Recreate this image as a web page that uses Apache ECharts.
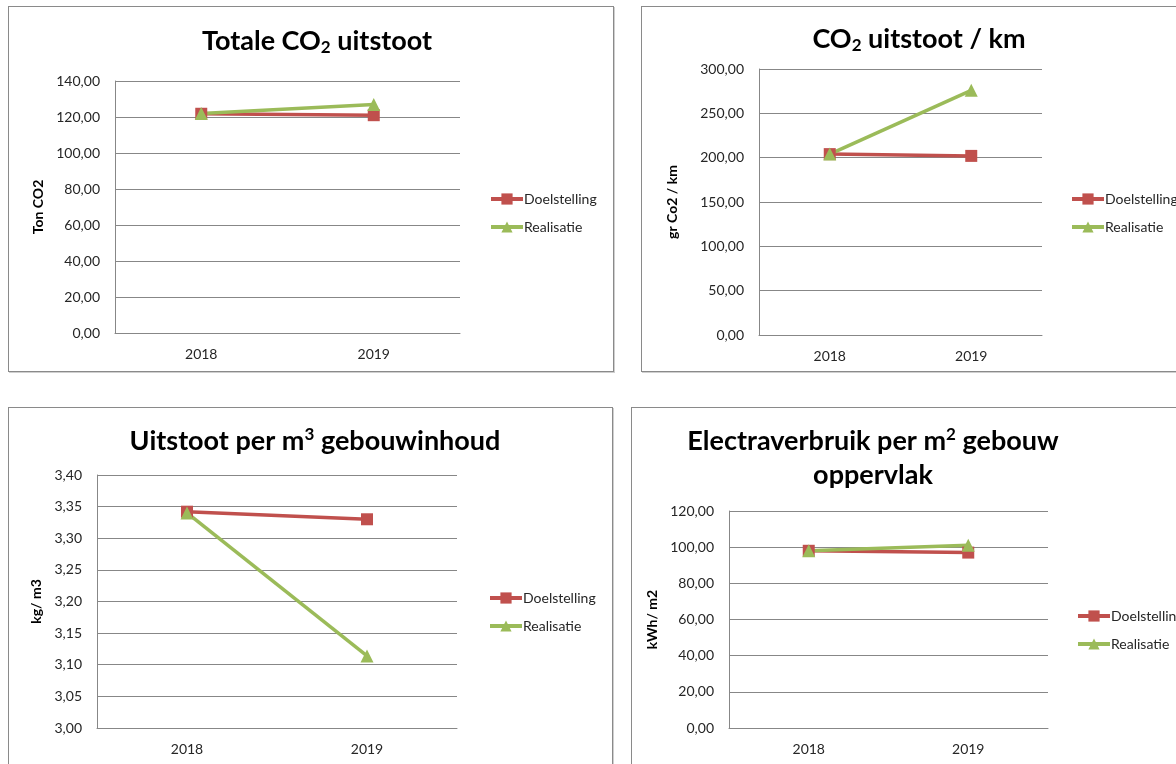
<!DOCTYPE html>
<html>
<head>
<meta charset="utf-8">
<script src="https://cdn.jsdelivr.net/npm/echarts@6/dist/echarts.min.js"></script>
<style>
    html, body { margin: 0; padding: 0; background: #fff; overflow: hidden; }
    body { width: 1176px; height: 764px; position: relative; }
    .paneel { position: absolute; box-sizing: border-box; border: 1px solid #8a8a8a; box-shadow: 1px 1px 0 #cfcfcf; background: #fff; }
</style>
</head>
<body>
<div id="totaal" class="paneel" style="left:8px;top:6px;width:606px;height:366px;"></div>
<div id="perKm" class="paneel" style="left:641px;top:6px;width:600px;height:366px;"></div>
<div id="perM3" class="paneel" style="left:8px;top:407px;width:605px;height:400px;"></div>
<div id="perM2" class="paneel" style="left:631px;top:407px;width:600px;height:400px;"></div>
<script>
// jaren
var years = ['2018', '2019'];

// Totale CO2 uitstoot (ton)
var totaalDoel = [121.8, 121.0];
var totaalReal = [122.0, 127.0];

// CO2 uitstoot per km (gr)
var kmDoel = [204.0, 202.0];
var kmReal = [204.0, 276.0];

// uitstoot per m3 gebouwinhoud (kg)
var m3Doel = [3.342, 3.330];
var m3Real = [3.340, 3.114];

// electraverbruik per m2 (kWh)
var m2Doel = [98.0, 97.0];
var m2Real = [98.0, 101.0];

var FONT = 'Lato, "Open Sans", sans-serif';
var ROOD = '#C0504D';
var GROEN = '#9BBB59';
var LIJN = '#878787';

var titleRich = {
    a: { fontFamily: FONT, fontSize: 27, fontWeight: 'bold', color: '#000', lineHeight: 34 },
    sub: { fontFamily: FONT, fontSize: 17, fontWeight: 'bold', color: '#000', padding: [13, 0, 0, 0] },
    sup: { fontFamily: FONT, fontSize: 17, fontWeight: 'bold', color: '#000', padding: [0, 0, 13, 0] }
};

var komma = function(v){
    return v.toFixed(2).replace('.', ',');
};

var makeOption = function(cfg){
    return {
        animation: false,
        title: {
            text: cfg.title,
            left: cfg.titleX,
            top: cfg.titleTop,
            textAlign: 'center',
            textStyle: { rich: titleRich, lineHeight: 34 }
        },
        legend: {
            orient: 'vertical',
            left: cfg.legendLeft,
            top: cfg.legendTop,
            itemWidth: 32,
            itemHeight: 14,
            itemGap: 14,
            lineStyle: { width: 4 },
            textStyle: { fontFamily: FONT, fontSize: 14, color: '#262626', padding: [0, 0, 0, -4] },
            data: ['Doelstelling', 'Realisatie']
        },
        grid: { left: cfg.grid[0], top: cfg.grid[1], width: cfg.grid[2], height: cfg.grid[3] },
        xAxis: {
            type: 'category',
            data: years,
            boundaryGap: true,
            axisLine: { lineStyle: { color: LIJN, width: 1 } },
            axisTick: { show: false },
            axisLabel: { fontFamily: FONT, fontSize: 14, color: '#262626', margin: 14 }
        },
        yAxis: {
            type: 'value',
            min: cfg.min,
            max: cfg.max,
            interval: cfg.interval,
            name: cfg.yName,
            nameLocation: 'middle',
            nameGap: cfg.nameGap,
            nameTextStyle: { fontFamily: FONT, fontSize: 14, fontWeight: 'bold', color: '#000' },
            axisLine: { show: true, lineStyle: { color: LIJN, width: 1 } },
            axisTick: { show: false },
            splitLine: { lineStyle: { color: LIJN, width: 1 } },
            axisLabel: {
                fontFamily: FONT, fontSize: 14, color: '#262626', margin: 15,
                formatter: komma
            }
        },
        series: [
            {
                name: 'Doelstelling',
                type: 'line',
                data: cfg.doel,
                symbol: 'rect',
                symbolSize: 12,
                itemStyle: { color: ROOD },
                lineStyle: { color: ROOD, width: 3.5 }
            },
            {
                name: 'Realisatie',
                type: 'line',
                data: cfg.real,
                symbol: 'triangle',
                symbolSize: 13,
                itemStyle: { color: GROEN },
                lineStyle: { color: GROEN, width: 3.5 }
            }
        ]
    };
};

var teken = function(id, cfg){
    var chart = echarts.init(document.getElementById(id));
    chart.clear();
    chart.setOption(makeOption(cfg));
};

teken('totaal', {
    title: '{a|Totale CO}{sub|2}{a| uitstoot}',
    titleX: 303, titleTop: 12,
    legendLeft: 475, legendTop: 180,
    grid: [106, 74, 345, 252],
    min: 0, max: 140, interval: 20,
    yName: 'Ton CO2', nameGap: 66,
    doel: totaalDoel, real: totaalReal
});

teken('perKm', {
    title: '{a|CO}{sub|2}{a| uitstoot / km}',
    titleX: 272, titleTop: 10,
    legendLeft: 423, legendTop: 180,
    grid: [117, 62, 283, 266],
    min: 0, max: 300, interval: 50,
    yName: 'gr Co2 / km', nameGap: 80,
    doel: kmDoel, real: kmReal
});

teken('perM3', {
    title: '{a|Uitstoot per m}{sup|3}{a| gebouwinhoud}',
    titleX: 301, titleTop: 11,
    legendLeft: 474, legendTop: 178,
    grid: [88, 67, 360, 253],
    min: 3, max: 3.4, interval: 0.05,
    yName: 'kg/ m3', nameGap: 49,
    doel: m3Doel, real: m3Real
});

teken('perM2', {
    title: '{a|Electraverbruik per m}{sup|2}{a| gebouw}\n{a|oppervlak}',
    titleX: 236, titleTop: 11,
    legendLeft: 439, legendTop: 196,
    grid: [97, 103, 319, 217],
    min: 0, max: 120, interval: 20,
    yName: 'kWh/ m2', nameGap: 61,
    doel: m2Doel, real: m2Real
});
</script>
</body>
</html>
